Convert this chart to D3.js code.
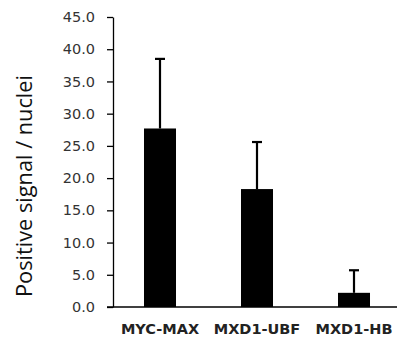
<!DOCTYPE html>
<html>
<head>
<meta charset="utf-8">
<script src="https://cdn.jsdelivr.net/npm/d3@7"></script>
<style>
  body { margin: 0; padding: 0; background: #fff; }
  svg { display: block; }
</style>
</head>
<body>
<svg id="chart" width="397" height="341"></svg>
<script>
// chart data
const categories = ["MYC-MAX", "MXD1-UBF", "MXD1-HB"];
const means = [27.7, 18.3, 2.2];
const errors = [10.8, 7.3, 3.5];
const yTicks = [0, 5, 10, 15, 20, 25, 30, 35, 40, 45];

const width = 397, height = 341;
const axisX = 113, zeroY = 307, topY = 17;

let svg = d3.select("#chart");

let x = d3.scaleBand()
    .domain(categories)
    .range([111.5, 402.5])
    .paddingInner(0.67)
    .paddingOuter(0.335);

let y = d3.scaleLinear()
    .domain([0, 45])
    .range([zeroY, topY]);

let rows = categories.map((c, i) => ({ cat: c, val: means[i], err: errors[i] }));

// y axis
let yAxis = svg.append("g")
    .attr("transform", `translate(${axisX},0)`)
    .call(d3.axisLeft(y).tickValues(yTicks).tickSize(6).tickSizeOuter(0).tickPadding(12)
        .tickFormat(d3.format(".1f")));
yAxis.select(".domain").attr("stroke", "#000").attr("stroke-width", 1.3);
yAxis.selectAll(".tick line").attr("stroke", "#000").attr("stroke-width", 1.3);
yAxis.selectAll(".tick text")
    .attr("fill", "#333")
    .style("font-family", "'DejaVu Sans', sans-serif")
    .style("font-size", "14.5px");

// x axis line
svg.append("line")
    .attr("x1", axisX - 6).attr("x2", width)
    .attr("y1", zeroY).attr("y2", zeroY)
    .attr("stroke", "#000").attr("stroke-width", 1.3);

// error bars
let eb = svg.selectAll(".err").data(rows).enter().append("g").attr("class", "err");
eb.append("line")
    .attr("x1", d => x(d.cat) + x.bandwidth() / 2)
    .attr("x2", d => x(d.cat) + x.bandwidth() / 2)
    .attr("y1", d => y(d.val))
    .attr("y2", d => y(d.val + d.err))
    .attr("stroke", "#000").attr("stroke-width", 2.2);
eb.append("line")
    .attr("x1", d => x(d.cat) + x.bandwidth() / 2 - 5)
    .attr("x2", d => x(d.cat) + x.bandwidth() / 2 + 5)
    .attr("y1", d => y(d.val + d.err))
    .attr("y2", d => y(d.val + d.err))
    .attr("stroke", "#000").attr("stroke-width", 2.2);

// bars
svg.selectAll(".bar").data(rows).enter().append("rect")
    .attr("class", "bar")
    .attr("x", d => x(d.cat))
    .attr("width", x.bandwidth())
    .attr("y", d => y(d.val))
    .attr("height", d => zeroY - y(d.val))
    .attr("fill", "#000");

// category labels
svg.selectAll(".cat").data(categories).enter().append("text")
    .attr("class", "cat")
    .attr("x", d => x(d) + x.bandwidth() / 2)
    .attr("y", 334)
    .attr("text-anchor", "middle")
    .attr("fill", "#222")
    .style("font-family", "'DejaVu Sans', sans-serif")
    .style("font-weight", "bold")
    .style("font-size", "14.5px")
    .text(d => d);

// y title
svg.append("text")
    .attr("transform", "translate(32,186) rotate(-90)")
    .attr("text-anchor", "middle")
    .attr("fill", "#111")
    .attr("textLength", 222)
    .attr("lengthAdjust", "spacingAndGlyphs")
    .style("font-family", "'Open Sans', sans-serif")
    .style("font-size", "21px")
    .text("Positive signal / nuclei");
</script>
</body>
</html>
